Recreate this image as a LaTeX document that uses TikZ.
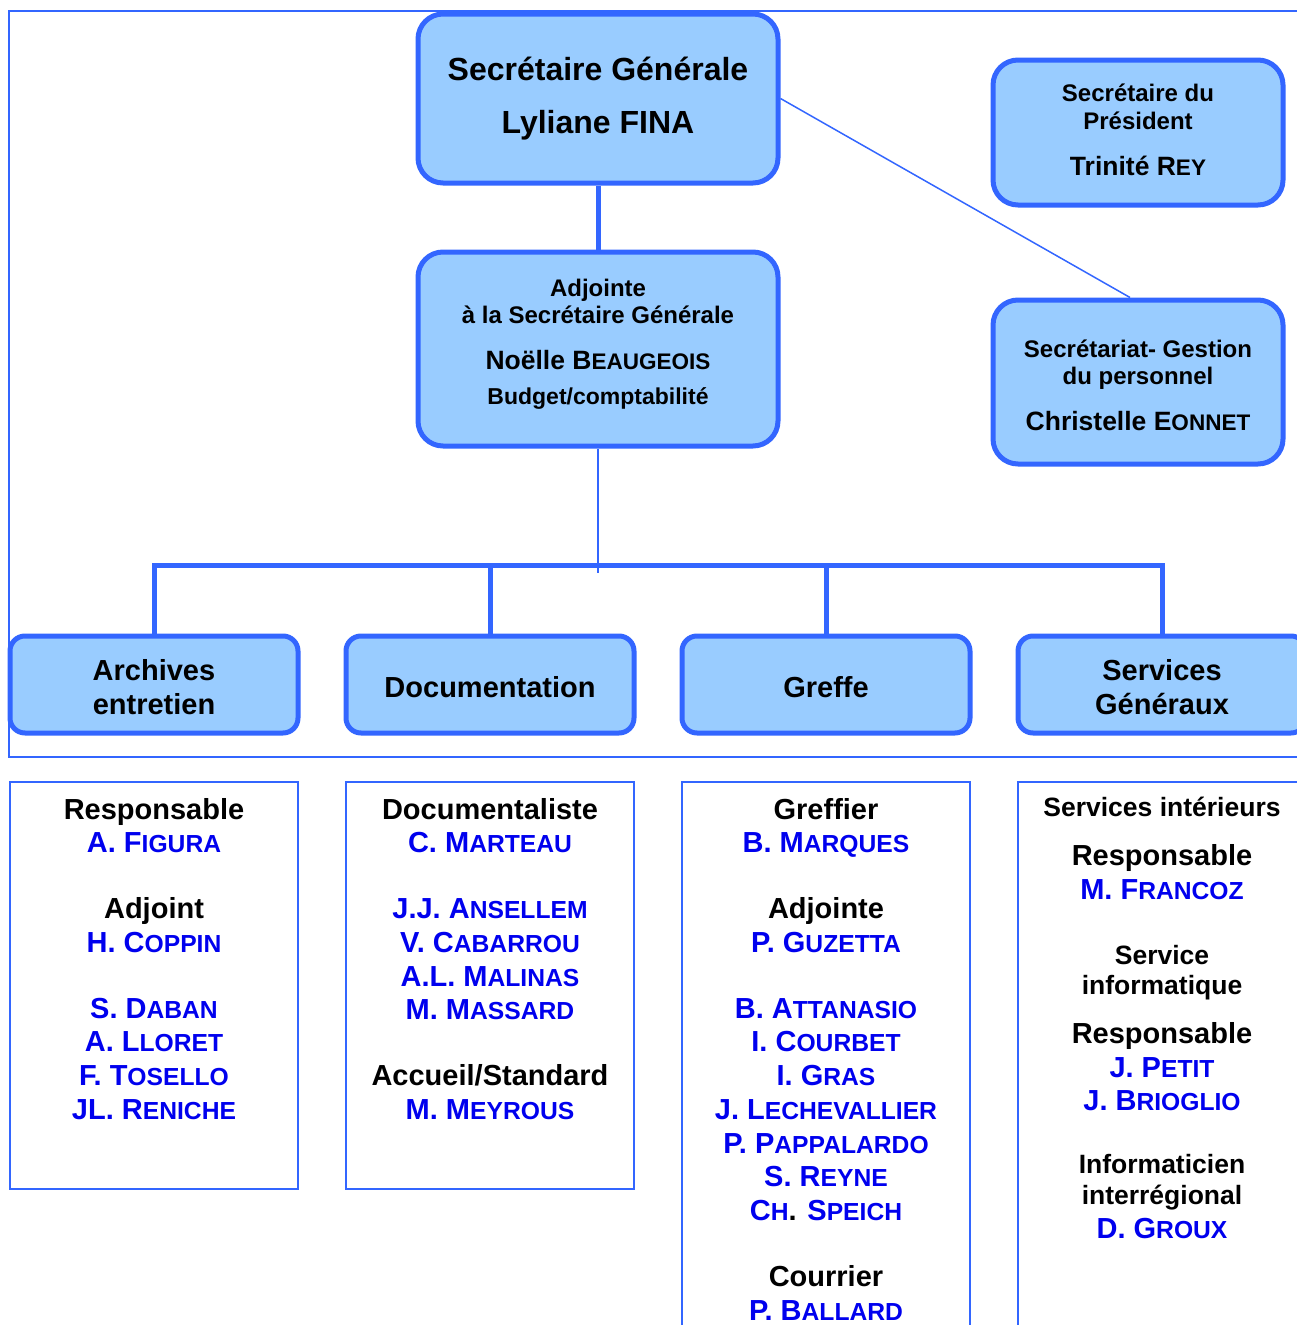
\documentclass[tikz,border=0pt]{standalone}
\usepackage{fontspec}
\setmainfont{Liberation Sans}
\usepackage{graphicx}
\usetikzlibrary{positioning}

\definecolor{boxblue}{RGB}{51,102,255}
\definecolor{boxfill}{RGB}{153,204,255}
\definecolor{nameblue}{RGB}{0,0,238}

\newcommand{\nm}[2]{\textcolor{nameblue}{#1\scalebox{0.85}{#2}}}
\newcommand{\pc}[1]{\scalebox{0.85}{#1}}

\begin{document}
\begin{tikzpicture}[x=1pt,y=-1pt,
        head/.style = {draw=boxblue, fill=boxfill, line width=5pt, rounded corners=25pt,
            align=center, inner sep=0pt},
        dept/.style = {head, rounded corners=15pt, minimum width=288pt, minimum height=97pt,
            font=\fontsize{29}{34}\selectfont\bfseries},
        list/.style = {draw=boxblue, line width=2pt, minimum width=288pt, inner sep=0pt, anchor=north},
        names/.style = {align=center, inner sep=0pt, font=\fontsize{29}{33.75}\selectfont\bfseries},
        thickline/.style = {boxblue, line width=5pt},
        thinline/.style = {boxblue, line width=1.5pt}]

        \useasboundingbox (0,0) rectangle (1297,1325);
        \clip (0,0) rectangle (1297,1325);

        % Frame
        \draw[boxblue, line width=2pt] (1320,11) -| (9,757) -- (1320,757);

        % Secretaire generale
        \node[head, minimum width=360pt, minimum height=169pt,
            font=\fontsize{32}{53}\selectfont\bfseries] (sg) at (598,98.5)
            {Secrétaire Générale\\Lyliane FINA};

        % Adjointe
        \node[head, minimum width=360pt, minimum height=194pt, text depth=14pt,
            font=\fontsize{24}{27}\selectfont\bfseries] (adj) at (598,349)
            {Adjointe\\à la Secrétaire Générale\\[19pt]
             {\fontsize{26.5}{27}\selectfont Noëlle B\pc{EAUGEOIS}}\\[8pt]
             {\fontsize{23}{27}\selectfont Budget/comptabilité}};

        % Secretaire du president
        \node[head, minimum width=290pt, minimum height=145pt, text depth=6pt,
            font=\fontsize{24}{28}\selectfont\bfseries] (pres) at (1138,132.5)
            {Secrétaire du\\Président\\[18pt]
             {\fontsize{26.5}{28}\selectfont Trinité R\pc{EY}}};

        % Gestion du personnel
        \node[head, minimum width=290pt, minimum height=164pt,
            font=\fontsize{24}{27}\selectfont\bfseries] (pers) at (1138,382)
            {\rule{0pt}{24pt}Secrétariat- Gestion\\du personnel\\[19pt]
             {\fontsize{26.5}{27}\selectfont Christelle E\pc{ONNET}}};

        \draw[thickline] (sg.south) -- (adj.north);
        \draw[boxblue, line width=1.5pt] (sg.east) -- ([xshift=-8pt]pers.north);

        % Services
        \node[dept] (arch) at (154,684.5) {\rule{0pt}{26pt}Archives\\entretien};
        \node[dept] (doc)  at (490,684.5) {\rule{0pt}{26pt}Documentation};
        \node[dept] (gref) at (826,684.5) {\rule{0pt}{26pt}Greffe};
        \node[dept] (serv) at (1162,684.5) {\rule{0pt}{26pt}Services\\Généraux};

        \coordinate (bus) at (598,565);
        \coordinate (busend) at (598,573);
        \draw[thinline] (adj.south) -- (busend);
        \draw[thickline] (arch.north) |- (bus) -| (serv.north);
        \foreach \d in {doc,gref}
            \draw[thickline] (\d.north) -- (\d.north |- bus);

        % Staff lists
        \node[list, minimum height=407pt] (list1) at (154,781) {};
        \node[list, minimum height=407pt] (list2) at (490,781) {};
        \node[list, minimum height=620pt] (list3) at (826,781) {};
        \node[list, minimum height=620pt] (list4) at (1162,781) {};

        \node[names, below=17pt of list1.north] (staff1)
            {Responsable\\\nm{A. F}{IGURA}\\[32pt]
             Adjoint\\\nm{H. C}{OPPIN}\\[32pt]
             \nm{S. D}{ABAN}\\\nm{A. L}{LORET}\\\nm{F. T}{OSELLO}\\\nm{JL. R}{ENICHE}};

        \node[names, below=17pt of list2.north] (staff2)
            {Documentaliste\\\nm{C. M}{ARTEAU}\\[32pt]
             \nm{J.J. A}{NSELLEM}\\\nm{V. C}{ABARROU}\\\nm{A.L. M}{ALINAS}\\\nm{M. M}{ASSARD}\\[32pt]
             Accueil/Standard\\\nm{M. M}{EYROUS}};

        \node[names, below=17pt of list3.north] (staff3)
            {Greffier\\\nm{B. M}{ARQUES}\\[32pt]
             Adjointe\\\nm{P. G}{UZETTA}\\[32pt]
             \nm{B. A}{TTANASIO}\\\nm{I. C}{OURBET}\\\nm{I. G}{RAS}\\\nm{J. L}{ECHEVALLIER}\\
             \nm{P. P}{APPALARDO}\\\nm{S. R}{EYNE}\\\nm{C}{H}. \nm{S}{PEICH}\\[32pt]
             Courrier\\\nm{P. B}{ALLARD}};

        \node[names, below=16pt of list4.north] (staff4)
            {{\fontsize{26.5}{33}\selectfont Services intérieurs}\\[15.5pt]
             Responsable\\\nm{M. F}{RANCOZ}\\[31.5pt]
             {\fontsize{26.5}{33}\selectfont Service}\\[-4.5pt]
             {\fontsize{26.5}{33}\selectfont informatique}\\[15.5pt]
             Responsable\\\nm{J. P}{ETIT}\\\nm{J. B}{RIOGLIO}\\[28.5pt]
             {\fontsize{26.5}{33}\selectfont Informaticien}\\[-2.5pt]
             {\fontsize{26.5}{33}\selectfont interrégional}\\
             \nm{D. G}{ROUX}};

    \end{tikzpicture}
\end{document}
